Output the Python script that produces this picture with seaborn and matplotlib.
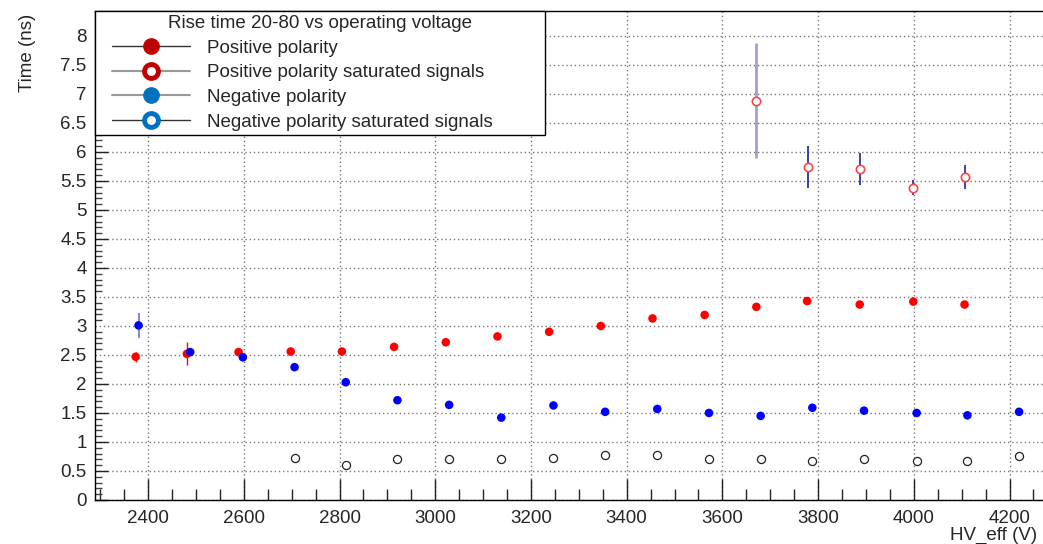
import numpy as np
import pandas as pd
import matplotlib
matplotlib.use('Agg')
import matplotlib.pyplot as plt
from matplotlib.lines import Line2D
from matplotlib.legend_handler import HandlerLine2D
from matplotlib.ticker import MultipleLocator, FixedLocator, FuncFormatter
import seaborn as sns

# Positive polarity
pos_hv = [2374, 2481, 2589, 2698, 2805, 2914, 3022, 3130, 3238,
          3346, 3454, 3563, 3671, 3777, 3887, 3999, 4106]
pos_t = [2.47, 2.52, 2.55, 2.56, 2.56, 2.64, 2.72, 2.82, 2.90,
         3.00, 3.13, 3.19, 3.33, 3.43, 3.37, 3.42, 3.37]
pos_err = [0.09, 0.20, 0.03, 0.03, 0.03, 0.03, 0.03, 0.03, 0.03,
           0.03, 0.03, 0.03, 0.03, 0.04, 0.03, 0.04, 0.03]

# Positive polarity, saturated signals
sat_hv = [3671, 3778, 3887, 3999, 4106]
sat_t = [6.88, 5.74, 5.71, 5.38, 5.57]
sat_err = [0.99, 0.36, 0.28, 0.13, 0.20]

# Negative polarity
neg_hv = [2380, 2488, 2598, 2706, 2813, 2921, 3029, 3138, 3247,
          3355, 3464, 3572, 3680, 3788, 3896, 4006, 4112, 4220]
neg_t = [3.01, 2.55, 2.46, 2.29, 2.03, 1.72, 1.64, 1.42, 1.63,
         1.52, 1.57, 1.50, 1.45, 1.59, 1.54, 1.50, 1.46, 1.52]
neg_err = [0.21, 0.06, 0.05, 0.04, 0.04, 0.04, 0.03, 0.03, 0.03,
           0.04, 0.04, 0.03, 0.03, 0.05, 0.05, 0.04, 0.05, 0.05]

# Negative polarity, saturated signals
nsat_hv = [2706, 2813, 2921, 3029, 3138, 3247, 3355, 3464, 3572,
           3680, 3788, 3896, 4006, 4112, 4220]
nsat_t = [0.72, 0.61, 0.70, 0.71, 0.71, 0.73, 0.78, 0.77, 0.71,
          0.71, 0.68, 0.70, 0.67, 0.68, 0.75]

legend_title = 'Rise time 20-80 vs operating voltage'
labels = ['Positive polarity', 'Positive polarity saturated signals',
          'Negative polarity', 'Negative polarity saturated signals']

FS = 13.5

sns.set_style('white')
plt.rcParams['font.family'] = ['Liberation Sans', 'DejaVu Sans']

fig = plt.figure(figsize=(10.43, 5.44), dpi=100)
ax = fig.add_axes([95 / 1043, 44 / 544, 948 / 1043, 489 / 544])

df_pos = pd.DataFrame({'hv': pos_hv, 't': pos_t})
df_neg = pd.DataFrame({'hv': neg_hv, 't': neg_t})
df_sat = pd.DataFrame({'hv': sat_hv, 't': sat_t})
df_nsat = pd.DataFrame({'hv': nsat_hv, 't': nsat_t})

# error bars
ax.errorbar(pos_hv, pos_t, yerr=pos_err, fmt='none', ecolor='#ff0000', elinewidth=1, zorder=2)
ax.errorbar(neg_hv, neg_t, yerr=neg_err, fmt='none', ecolor='#3333cc', elinewidth=1.2, alpha=0.7, zorder=2)
ax.errorbar(sat_hv[:1], sat_t[:1], yerr=sat_err[:1], fmt='none', ecolor='#8888cc', elinewidth=2, alpha=0.8, zorder=2)
ax.errorbar(sat_hv[1:], sat_t[1:], yerr=sat_err[1:], fmt='none', ecolor='#3030a0', elinewidth=1.3, zorder=2)

sns.scatterplot(data=df_pos, x='hv', y='t', ax=ax, color='#ff0000', s=38, edgecolor='none', zorder=3)
sns.scatterplot(data=df_neg, x='hv', y='t', ax=ax, color='#0000ff', s=38, edgecolor='none', zorder=3)
sns.scatterplot(data=df_sat, x='hv', y='t', ax=ax, facecolor='white', edgecolor='#ff4444', s=36, linewidth=1.2, zorder=3)
sns.scatterplot(data=df_nsat, x='hv', y='t', ax=ax, facecolor='white', edgecolor='#222222', s=34, linewidth=0.9, zorder=3)

ax.set_xlim(2289, 4270)
ax.set_ylim(0, 8.43)
ax.set_xlabel('')
ax.set_ylabel('')

ax.xaxis.set_major_locator(MultipleLocator(200))
ax.xaxis.set_minor_locator(MultipleLocator(50))
ax.yaxis.set_major_locator(MultipleLocator(0.5))
ax.yaxis.set_minor_locator(FixedLocator(np.arange(0, 6.31, 0.1)))
ax.yaxis.set_major_formatter(FuncFormatter(lambda v, p: f'{v:g}'))

ax.tick_params(axis='x', which='major', direction='in', length=15, width=1, labelsize=FS,
               pad=7, bottom=True, top=False, color='#222222')
ax.tick_params(axis='x', which='minor', direction='in', length=8, width=1, bottom=True, top=False,
               color='#222222')
ax.tick_params(axis='y', which='major', direction='in', length=9, width=1, labelsize=FS,
               pad=6, left=True, right=False, color='#222222')
ax.tick_params(axis='y', which='minor', direction='in', length=5, width=1, left=True, right=False,
               color='#444444')
for t in ax.yaxis.get_major_ticks():
    if t.get_loc() > 6.3:
        t.tick1line.set_visible(False)

ax.grid(True, which='major', color='#777777', linestyle=(0, (1, 2)), linewidth=1)
for side in ['left', 'bottom', 'top']:
    ax.spines[side].set_color('black')
    ax.spines[side].set_linewidth(1)
ax.spines['right'].set_visible(False)

handles = [
    Line2D([], [], color='#333333', lw=1, marker='o', markersize=11,
           markerfacecolor='#c00000', markeredgecolor='#c00000'),
    Line2D([], [], color='#999999', lw=1.5, marker='o', markersize=10,
           markerfacecolor='white', markeredgecolor='#c00000', markeredgewidth=3.5),
    Line2D([], [], color='#999999', lw=1.5, marker='o', markersize=11,
           markerfacecolor='#0070c0', markeredgecolor='#0070c0'),
    Line2D([], [], color='#333333', lw=1, marker='o', markersize=10,
           markerfacecolor='white', markeredgecolor='#0070c0', markeredgewidth=3.5),
]
leg_w = (545 - 95) / 948
leg_h = (133 - 11) / 489
leg = ax.legend(handles, labels, title=legend_title, loc='upper left',
                bbox_to_anchor=(0, 1 - leg_h, leg_w, leg_h), mode='expand',
                borderaxespad=0, fontsize=FS, title_fontsize=FS,
                handlelength=4.86, handletextpad=0.9,
                labelspacing=0.40, borderpad=0.22, fancybox=False,
                framealpha=1, edgecolor='black', alignment='center',
                handler_map={Line2D: HandlerLine2D(xpad=0.7)})
leg.get_frame().set_linewidth(1)

fig.text(28 / 1043, 1 - 14 / 544, 'Time (ns)', rotation=90, ha='center', va='top', fontsize=FS)
fig.text(1037 / 1043, 1 - 535 / 544, 'HV_eff (V)', ha='right', va='center', fontsize=FS)

fig.savefig('out.png', dpi=100)
